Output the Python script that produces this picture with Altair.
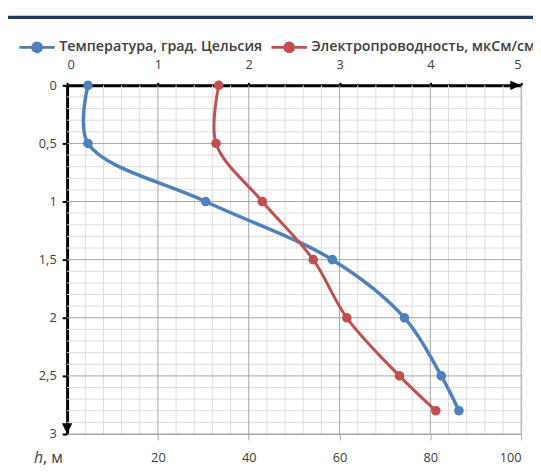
import altair as alt
import pandas as pd

# ---- data ----
depth = [0, 0.5, 1, 1.5, 2, 2.5, 2.8]
temperature = [4.6, 4.6, 30.5, 58.4, 74.3, 82.4, 86.3]
conductivity = [1.67, 1.64, 2.15, 2.71, 3.08, 3.66, 4.06]

SERIES = ["Температура, град. Цельсия", "Электропроводность, мкСм/см"]
COLORS = ["#4F81BD", "#C0504D"]

H_DOMAIN = [0, 3]
T_DOMAIN = [0, 100]
C_DOMAIN = [0, 5]

h_ticks = [0, 0.5, 1, 1.5, 2, 2.5, 3]
h_major_grid = [0.5, 1, 1.5, 2, 2.5, 3]
h_minor_grid = [0.1, 0.2, 0.3, 0.4, 0.6, 0.7, 0.8, 0.9, 1.1, 1.2, 1.3, 1.4,
                1.6, 1.7, 1.8, 1.9, 2.1, 2.2, 2.3, 2.4, 2.6, 2.7, 2.8, 2.9]
c_ticks = [0, 1, 2, 3, 4, 5]
c_major_grid = [1, 2, 3, 4, 5]
c_minor_grid = [0.2, 0.4, 0.6, 0.8, 1.2, 1.4, 1.6, 1.8, 2.2, 2.4, 2.6, 2.8,
                3.2, 3.4, 3.6, 3.8, 4.2, 4.4, 4.6, 4.8]
t_ticks = [20, 40, 60, 80, 100]

FONT = "Open Sans"
TXT = "#404040"
W, H = 461, 354

yscale = alt.Scale(domain=H_DOMAIN, reverse=True, nice=False, zero=False)
tscale = alt.Scale(domain=T_DOMAIN, nice=False)
cscale = alt.Scale(domain=C_DOMAIN, nice=False)
color_scale = alt.Scale(domain=SERIES, range=COLORS)

df_t = pd.DataFrame({"h": depth, "value": temperature, "series": SERIES[0]})
df_c = pd.DataFrame({"h": depth, "value": conductivity, "series": SERIES[1]})

legend = alt.Legend(
    title=None, orient="none", legendX=-50, legendY=-58, direction="horizontal",
    symbolType="M-1,0L1,0M-0.25,0A0.25,0.25,0,1,1,0.25,0A0.25,0.25,0,1,1,-0.25,0Z",
    symbolSize=1296, symbolStrokeWidth=3, labelFont=FONT, labelFontSize=14.5,
    labelFontWeight=600, labelColor=TXT, labelOffset=3, columnPadding=2,
    labelLimit=400, symbolOpacity=1,
)

y_axis = alt.Axis(
    orient="left", values=h_ticks,
    labelExpr="replace(format(datum.value, '~g'), '.', ',')",
    domainColor="black", domainWidth=3, tickColor="black", tickWidth=2, tickSize=5,
    labelColor=TXT, labelFont=FONT, labelFontSize=13, labelPadding=6, grid=False,
    title="h", titleFont=FONT, titleFontStyle="italic", titleFontWeight="normal",
    titleFontSize=16, titleColor=TXT, titleAngle=0, titleAlign="left",
    titleBaseline="alphabetic", titleX=-34, titleY=383,
)
Y = alt.Y("h:Q", scale=yscale, axis=y_axis)

t_axis = alt.Axis(
    orient="bottom", values=t_ticks, format="d", domain=True, domainColor="#a6a6a6",
    tickColor="#a6a6a6", tickSize=6, labelColor=TXT, labelFont=FONT,
    labelFontSize=13, labelPadding=12, grid=False,
    title=", м", titleFont=FONT, titleFontWeight="normal", titleFontSize=16,
    titleColor=TXT, titleAlign="left", titleBaseline="alphabetic",
    titleX=-25, titleY=29, titleAngle=0,
)

c_axis = alt.Axis(
    orient="top", values=c_ticks, format="d", domainColor="black", domainWidth=3,
    tickColor="black", tickWidth=2, tickSize=3, labelColor=TXT, labelFont=FONT,
    labelFontSize=13, labelPadding=11, grid=False, title=None,
)

def hrules(vals, color):
    return alt.Chart(pd.DataFrame({"h": vals})).mark_rule(color=color, strokeWidth=1).encode(y=Y)

def vrules(vals, color):
    return alt.Chart(pd.DataFrame({"c": vals})).mark_rule(color=color, strokeWidth=1).encode(
        x=alt.X("c:Q", scale=cscale, axis=None))

g1 = hrules(h_minor_grid, "#dcdcdc")
g2 = vrules(c_minor_grid, "#dcdcdc")
g3 = hrules(h_major_grid, "#a6a6a6")
g4 = vrules(c_major_grid, "#a6a6a6")

blue_line = alt.Chart(df_t).mark_line(strokeWidth=3.5, interpolate="catmull-rom",
                                      color=COLORS[0]).encode(
    x=alt.X("value:Q", scale=tscale, axis=t_axis), y=Y, order=alt.Order("h:Q"))
blue_pts = alt.Chart(df_t).mark_point(filled=True, size=60, opacity=1).encode(
    x=alt.X("value:Q", scale=tscale, axis=None), y=Y,
    fill=alt.Fill("series:N", scale=color_scale, legend=legend),
    stroke=alt.Stroke("series:N", scale=color_scale, legend=legend),
)
red_line = alt.Chart(df_c).mark_line(strokeWidth=3, interpolate="catmull-rom",
                                     color=COLORS[1]).encode(
    x=alt.X("value:Q", scale=cscale, axis=c_axis), y=Y, order=alt.Order("h:Q"))
red_pts = alt.Chart(df_c).mark_point(filled=True, size=60, opacity=1).encode(
    x=alt.X("value:Q", scale=cscale, axis=None), y=Y,
    fill=alt.Fill("series:N", scale=color_scale, legend=legend),
    stroke=alt.Stroke("series:N", scale=color_scale, legend=legend),
)

arrow_down = alt.Chart(pd.DataFrame({"c": [C_DOMAIN[0]], "h": [H_DOMAIN[1]]})).mark_point(
    shape="M-1,-2.1L1,-2.1L0,0Z", filled=True, color="black", size=110, opacity=1).encode(
    x=alt.X("c:Q", scale=cscale, axis=None), y=Y)
arrow_right = alt.Chart(pd.DataFrame({"c": [C_DOMAIN[1]], "h": [H_DOMAIN[0]]})).mark_point(
    shape="M-2.1,-0.9L-2.1,0.9L0,0Z", filled=True, color="black", size=110, opacity=1).encode(
    x=alt.X("c:Q", scale=cscale, axis=None), y=Y)

banner = alt.Chart(pd.DataFrame({"a": [0]})).mark_rule(color="#1F3864", strokeWidth=3.5).encode(
    x=alt.value(-60), x2=alt.value(480), y=alt.value(-69))

chart = alt.layer(
    g1, g2, g3, g4, blue_line, blue_pts, red_line, red_pts, arrow_down, arrow_right, banner
).resolve_scale(x="independent").properties(
    width=W, height=H,
    autosize=alt.AutoSizeParams(type="none"),
    padding={"left": 60, "top": 75, "right": 12, "bottom": 30},
).configure_view(stroke=None).configure(font=FONT)

chart.save("out.html", embed_options={"renderer": "svg", "actions": False})
